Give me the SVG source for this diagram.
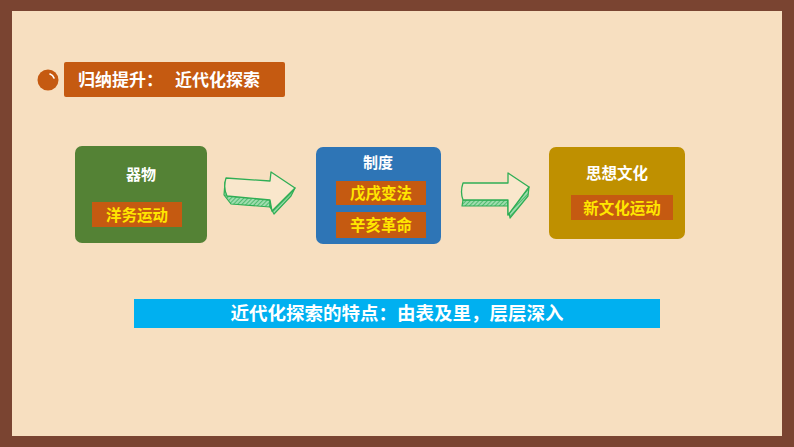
<svg xmlns="http://www.w3.org/2000/svg" width="794" height="447" viewBox="0 0 794 447">
<defs>
<pattern id="hatch" width="3" height="3" patternUnits="userSpaceOnUse" patternTransform="rotate(45)">
<rect width="3" height="3" fill="#9fdcae"/>
<line x1="0" y1="0" x2="0" y2="3" stroke="#2fae55" stroke-width="1.4"/>
</pattern>
<style>
.t{font-family:"Noto Sans CJK SC","Noto Sans",sans-serif;font-weight:bold;text-anchor:middle}
.w{fill:#ffffff}
.y{fill:#ffe600}
.tag{fill:#c55a11}
.face{fill:#f9e7cc;stroke:#2fae55;stroke-width:1.3;stroke-linejoin:round}
.side{fill:url(#hatch);stroke:#2fae55;stroke-width:1.2;stroke-linejoin:round}
</style>
</defs>
<rect x="0" y="0" width="794" height="447" fill="#7a4431"/>
<rect x="12" y="11" width="770" height="425" fill="#f7dfc0"/>

<g id="header">
<circle cx="48" cy="80" r="10.5" fill="#c55a11"/>
<path d="M50,74 Q53,75 54,78" fill="none" stroke="#ffffff" stroke-width="1.6" stroke-linecap="round"/>
<rect x="64" y="62" width="221" height="35" rx="2" fill="#c55a11"/>
<text x="78" y="86" class="t w" style="text-anchor:start;font-size:17px">归纳提升：</text>
<text x="175" y="86" class="t w" style="text-anchor:start;font-size:17px">近代化探索</text>
</g>

<g id="node-qiwu">
<rect x="75" y="146" width="132" height="97" rx="7" fill="#548235"/>
<text x="141" y="180" class="t w" font-size="15">器物</text>
<rect x="92" y="202" width="90" height="25" class="tag"/>
<text x="137" y="221" class="t y" font-size="15.5">洋务运动</text>
</g>

<g id="node-zhidu">
<rect x="316" y="147" width="125" height="97" rx="7" fill="#2e75b6"/>
<text x="378" y="168" class="t w" font-size="15">制度</text>
<rect x="336" y="181" width="90" height="24" class="tag"/>
<text x="381" y="199" class="t y" font-size="15.5">戊戌变法</text>
<rect x="336" y="212" width="90" height="26" class="tag"/>
<text x="381" y="231" class="t y" font-size="15.5">辛亥革命</text>
</g>

<g id="node-sixiang">
<rect x="549" y="147" width="136" height="92" rx="7" fill="#bf9000"/>
<text x="617" y="179" class="t w" font-size="15.5">思想文化</text>
<rect x="571" y="195" width="102" height="25" class="tag"/>
<text x="622" y="214" class="t y" font-size="15.5">新文化运动</text>
</g>

<g id="connectors">
<g id="arrow1">
<path class="side" d="M225,182 L227,196 L270,200 L270,207 L231,204 L224,195 Z"/>
<path class="side" d="M270,200 L272,211 L295,188 L291,196 L274,214 L270,207 Z"/>
<path class="face" d="M226,178 L270,181 L271,172 L295,188 L272,211 L270,200 L227,196 Q223,188 226,178 Z"/>
</g>
<g id="arrow2">
<path class="side" d="M463,200 L508,200 L508,206 L462,206 Z"/>
<path class="side" d="M508,200 L508,215 L529,187 L528,196 L510,218 L508,206 Z"/>
<path class="face" d="M463,183 L508,183 L508,173 L529,187 L508,215 L508,200 L463,200 Q460,192 463,183 Z"/>
</g>
</g>

<g id="summary">
<rect x="134" y="299" width="526" height="29" fill="#00b0f0"/>
<text x="397" y="320" class="t w" font-size="18.5">近代化探索的特点：由表及里，层层深入</text>
</g>
</svg>
